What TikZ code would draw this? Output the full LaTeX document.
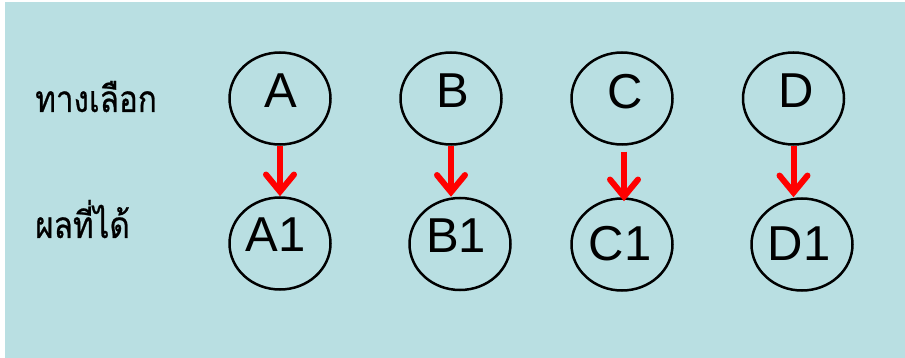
\documentclass[tikz,border=0pt]{standalone}
\usepackage{fontspec}
\setmainfont{Liberation Sans}
\newfontfamily\thaifont[Script=Thai, FakeStretch=0.85, FakeBold=0.6]{Loma}
\usepackage{tikz}
\usetikzlibrary{shapes.geometric, arrows.meta}
\definecolor{bgblue}{RGB}{185,223,226}

\begin{document}
\begin{tikzpicture}[x=1pt, y=-1pt,
  oval/.style={draw, line width=2.5pt, ellipse, minimum width=101pt, minimum height=92pt, inner sep=0pt},
  letter/.style={font=\fontsize{49}{49}\selectfont, inner sep=0pt},
  thaitext/.style={font=\thaifont\fontsize{37}{37}\selectfont, anchor=base west, inner sep=0pt},
  pick/.style={draw=red, line width=6pt, -{Straight Barb[length=17pt, width=28pt, line cap=round]}}]
\useasboundingbox (0,0) rectangle (905,358);
\fill[bgblue] (5,2) rectangle (905,358);

\coordinate (a) at (280,98.5);
\coordinate (b) at (451,98.5);
\coordinate (c) at (622,98.5);
\coordinate (d) at (793.5,98.5);
\coordinate (a1) at (280,243.5);
\coordinate (b1) at (460,244);
\coordinate (c1) at (622,244.5);
\coordinate (d1) at (802,244.5);

\node[thaitext] (choice) at (35,112) {ทางเลือก};
\node[thaitext] (outcome) at (35,238) {ผลที่ได้};

\node[oval] (A) at (a) {};
\node[oval] (B) at (b) {};
\node[oval] (C) at (c) {};
\node[oval] (D) at (d) {};
\node[oval] (A1) at (a1) {};
\node[oval] (B1) at (b1) {};
\node[oval] (C1) at (c1) {};
\node[oval] (D1) at (d1) {};

\node[letter] (A-t) at (280.5,90.5) {A};
\node[letter] (B-t) at (453,90.5) {B};
\node[letter] (C-t) at (625,91.5) {C};
\node[letter] (D-t) at (796,91) {D};
\node[letter] (A1-t) at (275.5,235) {A1};
\node[letter] (B1-t) at (456,235.5) {B1};
\node[letter] (C1-t) at (620,244) {C1};
\node[letter] (D1-t) at (799,244) {D1};

\draw[pick] (A.south) -- (A.south |- A1.north);
\draw[pick] (B.south) -- (B.south |- B1.north);
\draw[pick] ([xshift=2pt, yshift=-6pt]C.south) -- ([xshift=2pt, yshift=-4pt]C.south |- C1.north);
\draw[pick] (D.south) -- (D.south |- D1.north);
\end{tikzpicture}
\end{document}
